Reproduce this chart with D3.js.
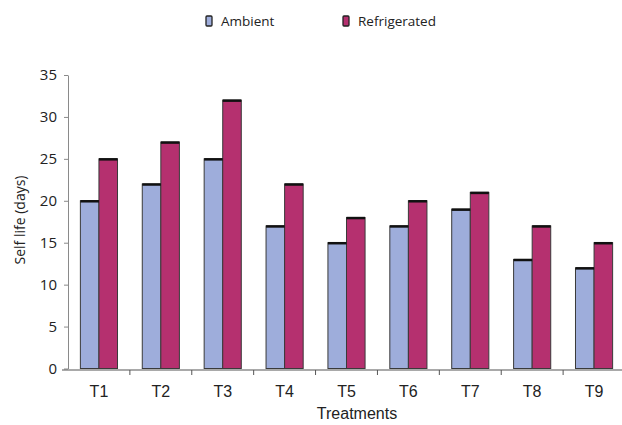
<!DOCTYPE html>
<html>
<head>
<meta charset="utf-8">
<script src="https://cdn.jsdelivr.net/npm/d3@7"></script>
<style>
   body { margin: 0; background: #fff; }
   svg { display: block; }
</style>
</head>
<body>
<svg id="chart"></svg>
<script>
// chart data
let treatments = ["T1", "T2", "T3", "T4", "T5", "T6", "T7", "T8", "T9"];
let ambient = [20, 22, 25, 17, 15, 17, 19, 13, 12];
let refrigerated = [25, 27, 32, 22, 18, 20, 21, 17, 15];
let seriesNames = ["Ambient", "Refrigerated"];
let seriesColors = ["#9eaddb", "#b5306f"];
let yTicks = [0, 5, 10, 15, 20, 25, 30, 35];

window.onload = function() {
   drawChart();
}

function drawChart() {
   let width = 622;
   let height = 425;
   let margin = {top: 75, right: -3, bottom: 56, left: 68};

   let svg = d3.select("svg#chart")
      .attr("width", width)
      .attr("height", height);

   let x = d3.scaleBand()
      .domain(treatments)
      .range([margin.left, width - margin.right]);
   let inner = d3.scaleBand()
      .domain(seriesNames)
      .range([0, x.bandwidth() * 0.6])
   let offset = x.bandwidth() * 0.2;

   let y = d3.scaleLinear()
      .domain([0, 35])
      .range([height - margin.bottom - 0.5, margin.top]);

   // Left Axis
   let leftAxis = d3.axisLeft(y)
      .tickValues(yTicks)
      .tickSize(4)
      .tickPadding(7)
      .tickSizeOuter(0);
   let gy = svg.append("g")
      .attr("transform", "translate(" + margin.left + ",0)")
      .call(leftAxis);
   gy.select(".domain").attr("stroke", "#8a8a8a");
   gy.selectAll(".tick line").attr("stroke", "#8a8a8a");
   gy.selectAll("text")
      .attr("fill", "#222")
      .style("font-family", "'Open Sans', sans-serif")
      .style("font-size", "15px");

   // Bars
   let rows = treatments.map((t, i) => ({t: t, vals: [ambient[i], refrigerated[i]]}));
   let groups = svg.append("g").selectAll("g")
      .data(rows)
      .join("g")
         .attr("transform", d => "translate(" + (x(d.t) + offset) + ",0)");

   groups.selectAll("rect")
      .data(d => d.vals.map((v, k) => ({name: seriesNames[k], v: v, k: k})))
      .join("rect")
         .attr("x", d => inner(d.name))
         .attr("y", d => y(d.v))
         .attr("width", inner.bandwidth())
         .attr("height", d => y(0) - y(d.v))
         .attr("fill", d => seriesColors[d.k])
         .attr("stroke", "#3a3a3a")
         .attr("stroke-width", 1);

   // thicker dark top edge of every bar
   groups.selectAll("line")
      .data(d => d.vals.map((v, k) => ({name: seriesNames[k], v: v})))
      .join("line")
         .attr("x1", d => inner(d.name))
         .attr("x2", d => inner(d.name) + inner.bandwidth())
         .attr("y1", d => y(d.v) + 0.5)
         .attr("y2", d => y(d.v) + 0.5)
         .attr("stroke", "#111")
         .attr("stroke-width", 2.5);

   // Bottom Axis
   let bottomAxis = d3.axisBottom(x)
      .tickSize(0)
      .tickPadding(16);
   let gx = svg.append("g")
      .attr("transform", "translate(0," + (height - margin.bottom + 1) + ")")
      .call(bottomAxis);
   gx.select(".domain").remove();
   gx.append("line")
      .attr("x1", margin.left - 6)
      .attr("x2", width)
      .attr("stroke", "#555")
      .attr("stroke-width", 1.2);
   gx.selectAll(".sep")
      .data(treatments.slice(1))
      .join("line")
         .attr("class", "sep")
         .attr("x1", d => x(d))
         .attr("x2", d => x(d))
         .attr("y1", 0)
         .attr("y2", 5)
         .attr("stroke", "#555");
   gx.selectAll(".tick text")
      .attr("fill", "#222")
      .style("font-family", "'Liberation Sans Narrow', 'Liberation Sans', sans-serif")
      .style("font-size", "16px");

   // Axis titles
   svg.append("text")
      .attr("x", (margin.left + width) / 2 + 12)
      .attr("y", 419)
      .attr("text-anchor", "middle")
      .attr("fill", "#222")
      .style("font-family", "'Liberation Sans Narrow', 'Liberation Sans', sans-serif")
      .style("font-size", "16px")
      .text("Treatments");

   let xc = 25;
   let yc = 220;
   svg.append("text")
      .attr("transform", "rotate(-90," + xc + "," + yc + ")")
      .attr("x", xc)
      .attr("y", yc)
      .attr("text-anchor", "middle")
      .attr("fill", "#222")
      .style("font-family", "'Open Sans', sans-serif")
      .style("font-size", "14px")
      .text("Self life (days)");

   // Legend
   let legendX = [206, 343];
   let legend = svg.append("g").selectAll("g")
      .data(seriesNames)
      .join("g")
         .attr("transform", (d, i) => "translate(" + legendX[i] + ",16)");
   legend.append("rect")
      .attr("width", 6)
      .attr("height", 10)
      .attr("rx", 1)
      .attr("fill", (d, i) => seriesColors[i])
      .attr("stroke", "#222")
      .attr("stroke-width", 1.3);
   legend.append("text")
      .attr("x", 15)
      .attr("y", 10)
      .attr("fill", "#222")
      .style("font-family", "'Open Sans', sans-serif")
      .style("font-size", "13.5px")
      .text(d => d);
}
</script>
</body>
</html>
